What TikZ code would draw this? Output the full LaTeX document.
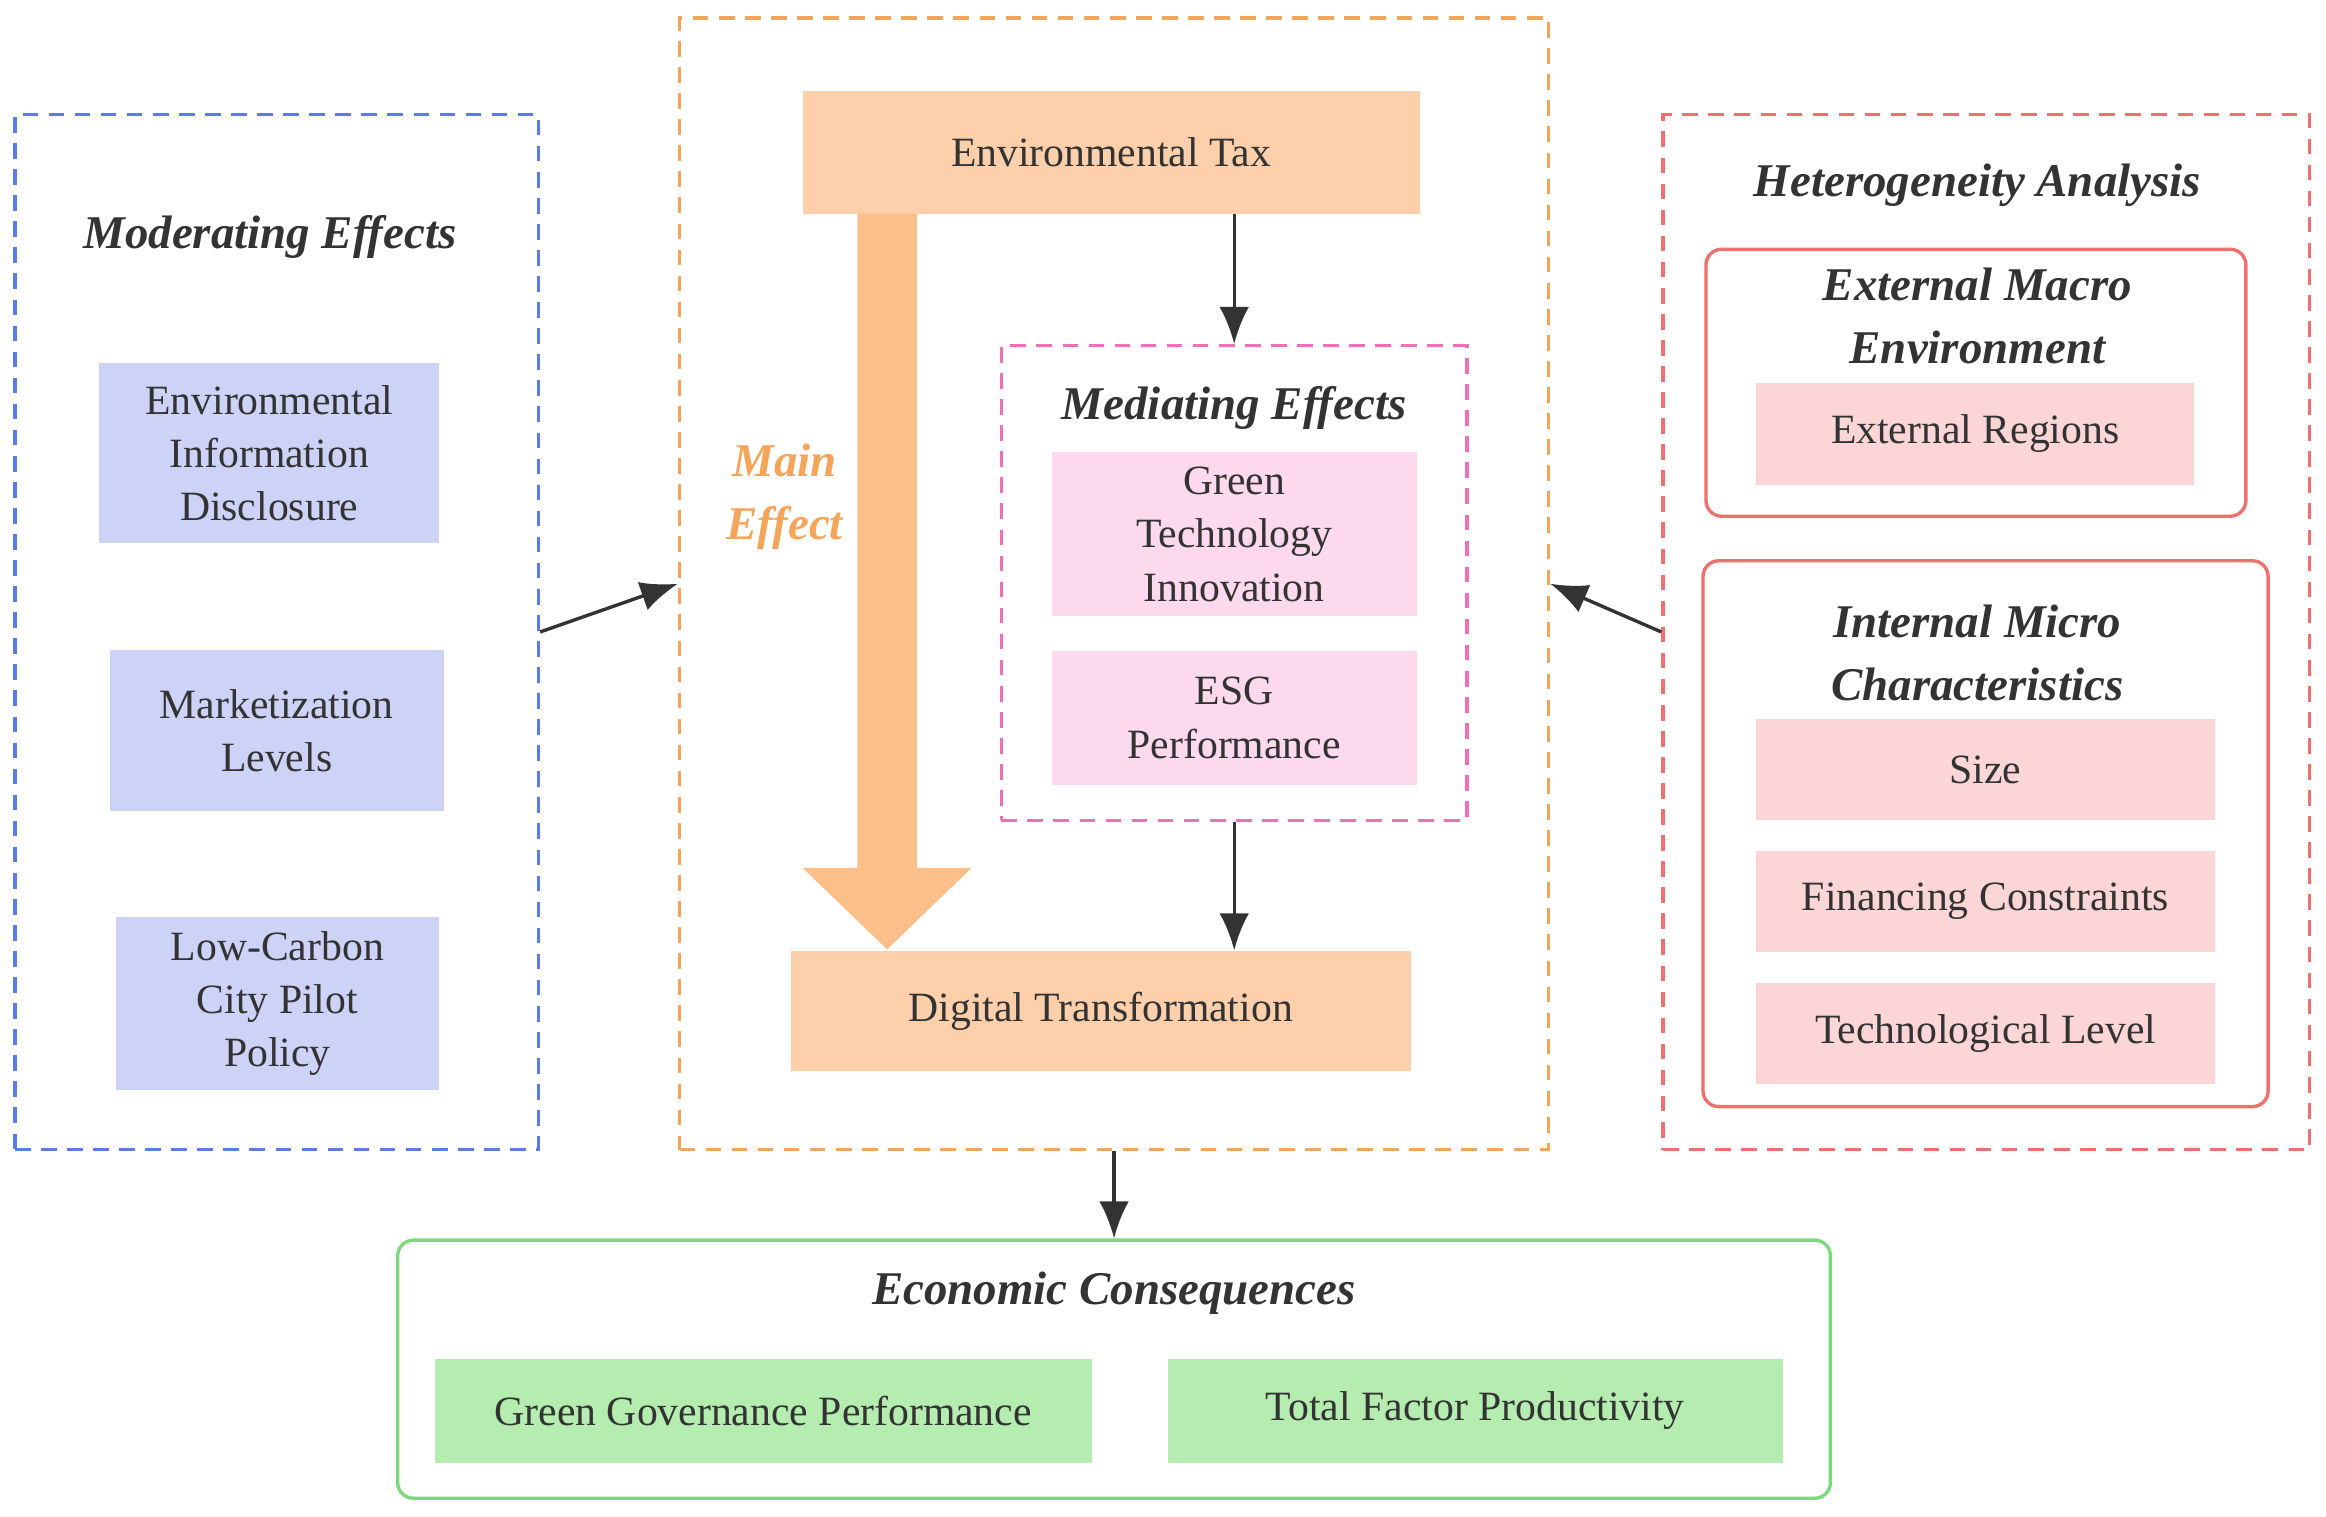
\documentclass[tikz,border=0pt]{standalone}
\usepackage{fontspec}
\setmainfont{Liberation Serif}
\usetikzlibrary{shapes}
\usetikzlibrary{arrows.meta}

\definecolor{txt}{HTML}{333333}
\definecolor{bluel}{HTML}{5B7BE8}
\definecolor{bluef}{HTML}{CDD3F7}
\definecolor{orl}{HTML}{F5A55A}
\definecolor{orf}{HTML}{FDD0AB}
\definecolor{ora}{HTML}{FDBF8A}
\definecolor{pinkl}{HTML}{F06FB6}
\definecolor{pinkf}{HTML}{FCD9EC}
\definecolor{redl}{HTML}{F07070}
\definecolor{redf}{HTML}{FCD6D6}
\definecolor{grl}{HTML}{7DD87D}
\definecolor{grf}{HTML}{B5ECB0}

\begin{document}
\begin{tikzpicture}[x=0.02cm,y=-0.02cm]
	\tikzstyle{every node}=[text=txt,font=\fontsize{16}{20.5}\selectfont,align=center,inner sep=0pt]
	\tikzstyle{frame}=[rectangle,dashed,line width=1.3pt,dash pattern=on 6pt off 4pt]
	\tikzstyle{group}=[rectangle,rounded corners=6pt,line width=1.3pt]
	\tikzstyle{box}=[rectangle]
	\tikzstyle{head}=[font=\fontsize{18}{24}\selectfont\bfseries\itshape]
	\tikzstyle{link}=[draw=txt,line width=1.3pt,-{Latex[length=5mm,width=4mm]}]

	\useasboundingbox (0,0) rectangle (1568,1022);

	% moderating effects
	\node[frame,draw=bluel,minimum width=7.06cm,minimum height=13.96cm] (mod) at (186.5,426) {};
	\node[head] (modt) at (182,160) {Moderating Effects};
	\node[box,fill=bluef,minimum width=4.58cm,minimum height=2.42cm] (eid) at (181.5,305.5) {Environmental\\Information\\Disclosure};
	\node[box,fill=bluef,minimum width=4.5cm,minimum height=2.18cm] (mkt) at (186.5,492.5) {Marketization\\Levels};
	\node[box,fill=bluef,minimum width=4.36cm,minimum height=2.34cm] (lcc) at (187,676.5) {Low-Carbon\\City Pilot\\Policy};

	% main part
	\node[frame,draw=orl,minimum width=11.72cm,minimum height=15.26cm] (core) at (751,393.5) {};
	\node[box,fill=orf,minimum width=8.32cm,minimum height=1.66cm] (tax) at (749,102.5) {Environmental Tax};
	\node[box,fill=orf,minimum width=8.36cm,minimum height=1.62cm] (dig) at (742,681.5) {Digital Transformation};
	\fill[ora] (578,144) -- (618,144) -- (618,585) -- (655,585) -- (598,640) -- (541,585) -- (578,585) -- cycle;
	\node[head,text=orl] (main) at (529,335) {Main\\Effect};

	\node[frame,draw=pinkl,minimum width=6.28cm,minimum height=6.4cm] (med) at (832,393) {};
	\node[head] (medt) at (832,275) {Mediating Effects};
	\node[box,fill=pinkf,minimum width=4.92cm,minimum height=2.2cm] (gti) at (832,360) {Green\\Technology\\Innovation};
	\node[box,fill=pinkf,minimum width=4.92cm,minimum height=1.8cm] (esg) at (832,484) {ESG\\Performance};

	% heterogeneity
	\node[frame,draw=redl,minimum width=8.72cm,minimum height=13.96cm] (het) at (1339,426) {};
	\node[head] (hett) at (1333,125) {Heterogeneity Analysis};
	\node[group,draw=redl,minimum width=7.28cm,minimum height=3.6cm] (ext) at (1332,258) {};
	\node[head] (extt) at (1333,213) {External Macro\\Environment};
	\node[box,fill=redf,minimum width=5.9cm,minimum height=1.38cm] (reg) at (1331.5,292.5) {External Regions};
	\node[group,draw=redl,minimum width=7.62cm,minimum height=7.36cm] (int) at (1338.5,562) {};
	\node[head] (intt) at (1333,440) {Internal Micro\\Characteristics};
	\node[box,fill=redf,minimum width=6.18cm,minimum height=1.36cm] (size) at (1338.5,519) {Size};
	\node[box,fill=redf,minimum width=6.18cm,minimum height=1.36cm] (fin) at (1338.5,607.5) {Financing Constraints};
	\node[box,fill=redf,minimum width=6.18cm,minimum height=1.36cm] (tech) at (1338.5,696.5) {Technological Level};

	% economic consequences
	\node[group,draw=grl,minimum width=19.32cm,minimum height=3.48cm] (eco) at (751,923) {};
	\node[head] (ecot) at (751,872) {Economic Consequences};
	\node[box,fill=grf,minimum width=8.86cm,minimum height=1.4cm] (ggp) at (514.5,951) {Green Governance Performance};
	\node[box,fill=grf,minimum width=8.3cm,minimum height=1.4cm] (tfp) at (994.5,951) {Total Factor Productivity};

	\draw[link] (tax.south -| med.north) -- (med.north);
	\draw[link] (med.south) -- (dig.north -| med.south);
	\draw[link] (mod.east) -- (core.west);
	\draw[link] (het.west) -- (core.east);
	\draw[link] (core.south) -- (eco.north);
\end{tikzpicture}
\end{document}
